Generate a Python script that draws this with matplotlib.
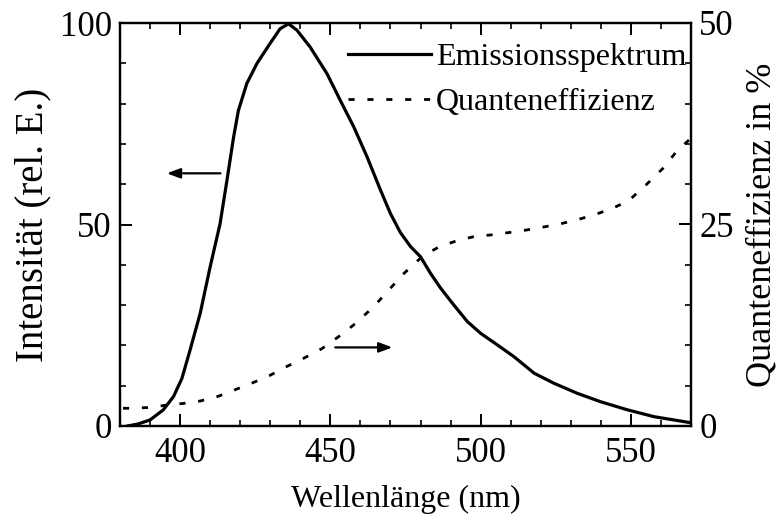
import matplotlib
matplotlib.use('Agg')
import matplotlib.pyplot as plt
from matplotlib.ticker import MultipleLocator

# ── Data ──────────────────────────────────────────────────────────────────────
em_nm = [382.5, 386, 390, 394.4, 397.8, 400.6, 403.3, 406.7, 410, 413.3,
         415.6, 417.8, 419.4, 422.2, 425.6, 430, 433.3, 436.1, 438.9, 443.3,
         448.9, 453.3, 457.8, 462.2, 466.7, 470, 473.3, 476.7, 480, 483.3,
         486.7, 491.1, 495.6, 500, 505.6, 511.1, 517.8, 524.4, 532.2, 540,
         548.9, 557.8, 570]
em_val = [0, 0.5, 1.5, 4, 7.3, 11.8, 18.8, 28, 39.5, 50.2,
          61, 71.7, 78.3, 85, 90, 95, 98.6, 99.8, 98.2, 94,
          87.4, 80.8, 74.2, 66.8, 58.5, 52.7, 48, 44.5, 42, 37.9,
          34.2, 30, 25.9, 23, 20.1, 17.2, 13.1, 10.6, 8.1, 6,
          4, 2.3, 0.8]

qe_nm = [381, 383.3, 390, 395.6, 401.1, 406.7, 412.8, 418.3, 424.4, 430,
         435.6, 441.1, 447.2, 452.8, 458.3, 464.4, 470, 474.4, 480.5, 486,
         492.2, 497.8, 503.3, 509.4, 515, 521.1, 526.7, 532.2, 537.8, 543.9,
         549.4, 555, 560.5, 565.5, 570]
qe_val = [2.2, 2.2, 2.3, 2.6, 2.8, 3.1, 3.7, 4.5, 5.4, 6.3,
          7.4, 8.4, 9.6, 11.1, 12.7, 14.8, 17.1, 18.9, 21, 22.2,
          23, 23.5, 23.7, 24, 24.3, 24.7, 25.1, 25.6, 26.2, 27,
          28, 29.9, 31.9, 34.2, 35.7]

labels = ['Emissionsspektrum', 'Quanteneffizienz']

plt.rcParams['font.family'] = ['Liberation Serif', 'DejaVu Serif']

FS_TICK = 25
FS_LBL = 23
FS_YL = 28    # left y label
FS_YR = 26    # right y label

fig = plt.figure(figsize=(7.79, 5.27), dpi=100, facecolor='white')
ax = fig.add_axes([120/779, 101/527, 571/779, 403/527])
ax2 = ax.twinx()

l1, = ax.plot(em_nm, em_val, color='black', lw=2.3, solid_joinstyle='round')
l2, = ax2.plot(qe_nm, qe_val, color='black', lw=2.0,
               linestyle=(0, (2.2, 4.6)), dash_capstyle='butt')

ax.set_xlim(380, 570)
ax.set_ylim(0, 100)
ax2.set_ylim(0, 50)

ax.xaxis.set_major_locator(MultipleLocator(50))
ax.xaxis.set_minor_locator(MultipleLocator(10))
ax.yaxis.set_major_locator(MultipleLocator(50))
ax.yaxis.set_minor_locator(MultipleLocator(10))
ax2.yaxis.set_major_locator(MultipleLocator(25))
ax2.yaxis.set_minor_locator(MultipleLocator(5))

for a in (ax, ax2):
    for s in a.spines.values():
        s.set_linewidth(1.6)
    a.tick_params(which='major', direction='in', length=8.5, width=1.4,
                  labelsize=FS_TICK, pad=6)
    a.tick_params(which='minor', direction='in', length=4.3, width=1.2)

ax.tick_params(which='both', top=True, right=False)
ax.tick_params(axis='x', which='major', pad=8)
ax2.tick_params(which='both', left=False, right=True)

ax.set_xlabel('Wellenlänge (nm)', fontsize=FS_LBL, labelpad=11)
ax.set_ylabel('Intensität (rel. E.)', fontsize=FS_YL, labelpad=6)
ax2.set_ylabel('Quanteneffizienz in %', fontsize=FS_YR, labelpad=8)

ax2.legend([l1, l2], labels, loc='upper left', bbox_to_anchor=(0.399, 0.952),
           frameon=False, fontsize=FS_LBL, handlelength=2.6, handletextpad=0.16,
           borderpad=0, borderaxespad=0, labelspacing=0.5)

# direction arrows
ax.annotate('', xy=(0.082, 0.627), xytext=(0.176, 0.627),
            xycoords='axes fraction',
            arrowprops=dict(arrowstyle='-|>,head_length=0.8,head_width=0.3',
                            color='black', lw=1.6, shrinkA=0, shrinkB=0))
ax.annotate('', xy=(0.477, 0.195), xytext=(0.377, 0.195),
            xycoords='axes fraction',
            arrowprops=dict(arrowstyle='-|>,head_length=0.8,head_width=0.3',
                            color='black', lw=1.6, shrinkA=0, shrinkB=0))

fig.savefig('out.png', dpi=100, facecolor='white')
